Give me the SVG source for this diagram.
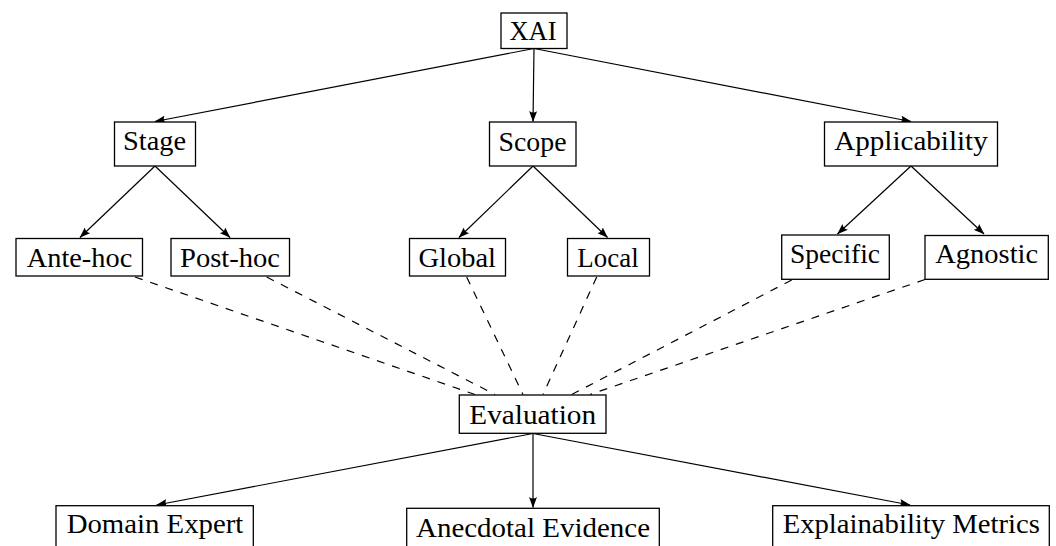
<svg xmlns="http://www.w3.org/2000/svg" width="1056" height="546" viewBox="0 0 1056 546">
<style>
.box{fill:#fff;stroke:#000;stroke-width:1.3}
.t{font-family:"Liberation Serif","Times New Roman",serif;font-size:27px;fill:#000;text-anchor:middle}
.e{stroke:#000;stroke-width:1.2;fill:none}
.d{stroke:#000;stroke-width:1.2;fill:none;stroke-dasharray:8 8}
</style>
<defs>
<marker id="ah" markerWidth="11" markerHeight="8" refX="10.5" refY="4" orient="auto" markerUnits="userSpaceOnUse">
<path d="M0,0 Q3,4 0,8 L11,4 Z" fill="#000"/>
</marker>
</defs>
<g id="connectors">
<line class="e" x1="534" y1="48.5" x2="155" y2="121.5" marker-end="url(#ah)"/>
<line class="e" x1="534" y1="48.5" x2="533" y2="121.5" marker-end="url(#ah)"/>
<line class="e" x1="534" y1="48.5" x2="911" y2="121.5" marker-end="url(#ah)"/>
<line class="e" x1="155" y1="166" x2="80" y2="237.5" marker-end="url(#ah)"/>
<line class="e" x1="155" y1="166" x2="230" y2="237.5" marker-end="url(#ah)"/>
<line class="e" x1="533" y1="166" x2="459" y2="237.5" marker-end="url(#ah)"/>
<line class="e" x1="533" y1="166" x2="607.5" y2="237.5" marker-end="url(#ah)"/>
<line class="e" x1="911" y1="166" x2="837.5" y2="234" marker-end="url(#ah)"/>
<line class="e" x1="911" y1="166" x2="984" y2="234" marker-end="url(#ah)"/>
<line class="d" x1="135" y1="277" x2="475" y2="394.5"/>
<line class="d" x1="266.7" y1="277" x2="495" y2="394.5"/>
<line class="d" x1="466.7" y1="277" x2="523" y2="394.5"/>
<line class="d" x1="596.7" y1="277" x2="543" y2="394.5"/>
<line class="d" x1="791.7" y1="280" x2="571.7" y2="394.5"/>
<line class="d" x1="925" y1="279.5" x2="590" y2="394.5"/>
<line class="e" x1="533" y1="433.5" x2="156.7" y2="505" marker-end="url(#ah)"/>
<line class="e" x1="533" y1="433.5" x2="533" y2="507.5" marker-end="url(#ah)"/>
<line class="e" x1="533" y1="433.5" x2="910" y2="505" marker-end="url(#ah)"/>
</g>
<g id="xai"><rect class="box" x="501" y="13" width="66" height="35.5"/><text class="t" x="533" y="40" textLength="47" lengthAdjust="spacingAndGlyphs">XAI</text></g>
<g id="stage"><rect class="box" x="114.5" y="122" width="81" height="44"/><text class="t" x="154.5" y="150" textLength="63" lengthAdjust="spacingAndGlyphs">Stage</text></g>
<g id="scope"><rect class="box" x="489.5" y="122" width="86.5" height="44"/><text class="t" x="532.5" y="150.5" textLength="68" lengthAdjust="spacingAndGlyphs">Scope</text></g>
<g id="applicability"><rect class="box" x="824.5" y="122" width="173" height="44"/><text class="t" x="911" y="150" textLength="153.5" lengthAdjust="spacingAndGlyphs">Applicability</text></g>
<g id="antehoc"><rect class="box" x="16" y="238.5" width="126.5" height="37.5"/><text class="t" x="79.5" y="266.5" textLength="105.5" lengthAdjust="spacingAndGlyphs">Ante-hoc</text></g>
<g id="posthoc"><rect class="box" x="171" y="238.5" width="118.5" height="37.5"/><text class="t" x="230" y="266.5" textLength="100" lengthAdjust="spacingAndGlyphs">Post-hoc</text></g>
<g id="global"><rect class="box" x="409.5" y="238.5" width="96" height="37.5"/><text class="t" x="457.2" y="266.5" textLength="77.5" lengthAdjust="spacingAndGlyphs">Global</text></g>
<g id="local"><rect class="box" x="567.5" y="238.5" width="82" height="37.5"/><text class="t" x="608" y="266.5" textLength="61.3" lengthAdjust="spacingAndGlyphs">Local</text></g>
<g id="specific"><rect class="box" x="781.7" y="235" width="107.6" height="44.3"/><text class="t" x="835" y="263.3" textLength="90" lengthAdjust="spacingAndGlyphs">Specific</text></g>
<g id="agnostic"><rect class="box" x="925" y="235.5" width="123.3" height="43.8"/><text class="t" x="986.7" y="263.3" textLength="103" lengthAdjust="spacingAndGlyphs">Agnostic</text></g>
<g id="evaluation"><rect class="box" x="459.3" y="395" width="146.7" height="38.3"/><text class="t" x="532.7" y="424.3" textLength="126.7" lengthAdjust="spacingAndGlyphs">Evaluation</text></g>
<g id="domainexpert"><rect class="box" x="56" y="505.7" width="197.3" height="60"/><text class="t" x="155" y="533" textLength="176.7" lengthAdjust="spacingAndGlyphs">Domain Expert</text></g>
<g id="anecdotal"><rect class="box" x="406.7" y="508.3" width="252.6" height="60"/><text class="t" x="533" y="536.5" textLength="234" lengthAdjust="spacingAndGlyphs">Anecdotal Evidence</text></g>
<g id="metrics"><rect class="box" x="772.7" y="505.7" width="276.6" height="60"/><text class="t" x="911.3" y="533" textLength="257.3" lengthAdjust="spacingAndGlyphs">Explainability Metrics</text></g>
</svg>
